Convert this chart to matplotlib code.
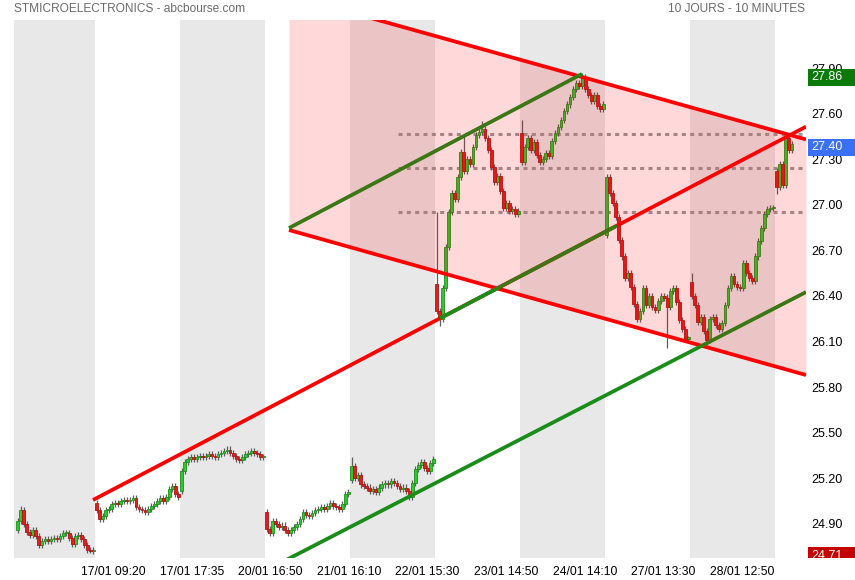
import matplotlib
matplotlib.use('Agg')
import matplotlib.pyplot as plt
import matplotlib.transforms as mtrans
from matplotlib.patches import Rectangle
import numpy as np

plt.rcParams['font.family'] = ['Liberation Sans', 'DejaVu Sans']
plt.rcParams['lines.scale_dashes'] = False

# ---------------- data ----------------
title_left = "STMICROELECTRONICS - abcbourse.com"
title_right = "10 JOURS - 10 MINUTES"

days = ['16/01', '17/01', '20/01', '21/01', '22/01', '23/01', '24/01', '27/01', '28/01', '29/01']

day_open = [24.86, 25.04, 25.12, 24.98, 25.19, 26.48, 27.47, 26.80, 26.49, 27.22]

closes_1601 = [24.92, 24.99, 24.90, 24.85, 24.83, 24.86, 24.82, 24.76, 24.79, 24.80, 24.79, 24.80, 24.81,
               24.80, 24.82, 24.84, 24.84, 24.81, 24.77, 24.82, 24.83, 24.80, 24.76, 24.73, 24.72, 24.73]
closes_1701 = [24.99, 24.93, 24.95, 24.99, 25.00, 25.03, 25.04, 25.03, 25.05, 25.06, 25.05, 25.06, 25.07, 25.01,
               25.00, 24.99, 24.98, 25.00, 25.02, 25.03, 25.05, 25.07, 25.05, 25.08, 25.13, 25.15, 25.10, 25.08]
closes_2001 = [25.25, 25.31, 25.33, 25.34, 25.33, 25.34, 25.35, 25.34, 25.35, 25.36, 25.35, 25.34, 25.36, 25.37,
               25.38, 25.39, 25.37, 25.35, 25.33, 25.32, 25.34, 25.36, 25.37, 25.38, 25.37, 25.36, 25.34, 25.34]
closes_2101 = [24.87, 24.84, 24.92, 24.90, 24.88, 24.89, 24.86, 24.84, 24.86, 24.88, 24.90, 24.93, 24.98, 24.96,
               24.95, 24.97, 24.99, 25.00, 25.01, 25.00, 25.02, 25.04, 25.02, 25.01, 25.00, 25.03, 25.10, 25.11]
closes_2201 = [25.28, 25.20, 25.22, 25.16, 25.15, 25.14, 25.12, 25.13, 25.11, 25.14, 25.16, 25.17, 25.16, 25.18,
               25.17, 25.15, 25.13, 25.14, 25.12, 25.08, 25.17, 25.26, 25.29, 25.31, 25.27, 25.25, 25.30, 25.33]
closes_2301 = [26.30, 26.25, 26.45, 26.72, 26.95, 27.08, 27.04, 27.18, 27.35, 27.22, 27.30, 27.27, 27.38, 27.46,
               27.48, 27.50, 27.44, 27.36, 27.25, 27.15, 27.19, 27.09, 26.98, 27.01, 26.96, 26.97, 26.94, 26.96]
closes_2401 = [27.28, 27.38, 27.44, 27.36, 27.41, 27.33, 27.28, 27.30, 27.34, 27.32, 27.42, 27.47, 27.51, 27.56,
               27.62, 27.66, 27.71, 27.76, 27.80, 27.78, 27.84, 27.76, 27.72, 27.68, 27.72, 27.65, 27.63, 27.66]
closes_2701 = [27.18, 27.08, 27.01, 26.92, 26.77, 26.66, 26.52, 26.55, 26.46, 26.35, 26.25, 26.30, 26.45, 26.34,
               26.40, 26.33, 26.31, 26.37, 26.40, 26.39, 26.33, 26.43, 26.45, 26.36, 26.24, 26.18, 26.12, 26.12]
closes_2801 = [26.40, 26.34, 26.23, 26.26, 26.17, 26.11, 26.25, 26.26, 26.21, 26.18, 26.22, 26.34, 26.45, 26.53,
               26.48, 26.46, 26.45, 26.62, 26.55, 26.52, 26.50, 26.66, 26.76, 26.85, 26.94, 26.97, 26.98, 26.98]
closes_2901 = [27.12, 27.27, 27.13, 27.44, 27.36, 27.40]
closes = [closes_1601, closes_1701, closes_2001, closes_2101, closes_2201,
          closes_2301, closes_2401, closes_2701, closes_2801, closes_2901]

# notable wicks: (day, candle) -> (high, low)
wick_extremes = {
    (0, 1): (25.02, None), (0, 24): (None, 24.71),
    (4, 0): (25.34, None),
    (5, 0): (26.95, None), (5, 1): (None, 26.20), (5, 9): (27.46, None), (5, 15): (27.55, None),
    (6, 0): (27.56, None), (6, 20): (27.87, None),
    (7, 0): (27.20, None), (7, 20): (None, 26.06),
    (8, 0): (26.55, None), (8, 5): (None, 26.08),
    (9, 0): (None, 27.07), (9, 3): (27.47, None),
}

# trend lines: (position in days, price)
rise_red_x, rise_red_y = [0.9765, 9.3647], [25.058, 27.514]
down_up_x, down_up_y = [3.2824, 9.3647], [28.379, 27.430]
down_lo_x, down_lo_y = [3.2824, 9.3647], [26.834, 25.880]
green_up_x, green_up_y = [3.2824, 6.7294], [26.847, 27.861]
green_mid_x, green_mid_y = [5.0588, 7.1412], [26.253, 26.863]
green_lo_x, green_lo_y = [3.176, 9.3647], [24.642, 26.426]
levels = [27.464, 27.240, 26.950]
levels_start = 4.565

yticks = [24.90, 25.20, 25.50, 25.80, 26.10, 26.40, 26.70, 27.00, 27.30, 27.60, 27.90]
xtick_labels = ['17/01 09:20', '17/01 17:35', '20/01 16:50', '21/01 16:10', '22/01 15:30',
                '23/01 14:50', '24/01 14:10', '27/01 13:30', '28/01 12:50']
price_high, price_last, price_low = 27.86, 27.40, 24.71

# ---------------- figure ----------------
W, H = 855, 580
fig = plt.figure(figsize=(W / 100, H / 100), dpi=100)
ax = fig.add_axes([14 / W, 22 / H, 792 / W, 538 / H])
XMIN, XMAX = 4 / 85, 9.3647
YMIN, YMAX = 24.6763, 28.2158
ax.set_xlim(XMIN, XMAX)
ax.set_ylim(YMIN, YMAX)
for s in ax.spines.values():
    s.set_visible(False)

# alternating day bands
for d in range(0, len(days), 2):
    ax.axvspan(d, d + 1, color='#e8e8e8', lw=0, zorder=0)

# dashed levels
for lv in levels:
    ax.plot([levels_start, XMAX], [lv, lv], color='#999999', lw=2.2,
            linestyle=(0, (2.9, 3.1)), zorder=1, solid_capstyle='butt')

# candles
N = 28
wick = 0.02
xs, o, c, hi, lo = [], [], [], [], []
for d, (op, cl) in enumerate(zip(day_open, closes)):
    offset = N - len(cl) if d == 0 else 0
    prev = op
    for j, v in enumerate(cl):
        xs.append(d + (offset + j + 0.5) / N)
        o.append(prev)
        c.append(v)
        h_ = max(prev, v) + wick
        l_ = min(prev, v) - wick
        if (d, j) in wick_extremes:
            eh, el = wick_extremes[(d, j)]
            if eh is not None:
                h_ = eh
            if el is not None:
                l_ = el
        hi.append(h_)
        lo.append(l_)
        prev = v
xs, o, c, hi, lo = map(np.array, (xs, o, c, hi, lo))
up = c >= o
ax.vlines(xs, lo, hi, colors='#5f5f5f', lw=0.9, zorder=2.5)
body = np.maximum(np.abs(c - o), 0.008)
ax.bar(xs[up], body[up], bottom=np.minimum(o, c)[up], width=0.92 / N,
       color='#2ec82e', edgecolor='#1c921c', lw=0.6, zorder=3)
ax.bar(xs[~up], body[~up], bottom=np.minimum(o, c)[~up], width=0.92 / N,
       color='#e41c1c', edgecolor='#b01414', lw=0.6, zorder=3)

# trend lines
lw = 2.7
ax.plot(rise_red_x, rise_red_y, color='#ff0000', lw=lw, zorder=4, solid_capstyle='butt')
ax.plot(down_up_x, down_up_y, color='#ff0000', lw=lw, zorder=4, solid_capstyle='butt')
ax.plot(down_lo_x, down_lo_y, color='#ff0000', lw=lw, zorder=4, solid_capstyle='butt')
ax.plot(green_up_x, green_up_y, color='#1a8c1a', lw=lw, zorder=4.1, solid_capstyle='butt')
ax.plot(green_mid_x, green_mid_y, color='#1a8c1a', lw=lw, zorder=4.1, solid_capstyle='butt')
ax.plot(green_lo_x, green_lo_y, color='#1a8c1a', lw=lw, zorder=4.1, solid_capstyle='butt')

# channel fill (on top)
ax.fill_between(down_up_x, down_lo_y, down_up_y, color='#ff0000', alpha=0.15, lw=0, zorder=5)

# axes ticks
ax.yaxis.tick_right()
ax.set_yticks(yticks)
ax.set_yticklabels([f'{v:.2f}' for v in yticks])
ax.tick_params(axis='y', length=0, pad=3.6, labelsize=9, labelcolor='black')

day_len = 530.0
tick_pos = []
for lab in xtick_labels:
    dd, tt = lab.split(' ')
    hh, mm = map(int, tt.split(':'))
    tick_pos.append(days.index(dd) + ((hh - 9) * 60 + mm) / day_len)
ax.set_xticks(tick_pos)
ax.set_xticklabels(xtick_labels)
ax.tick_params(axis='x', length=0, pad=5.5, labelsize=8.7, labelcolor='black')
shift = mtrans.ScaledTranslation(15 / 100, 0, fig.dpi_scale_trans)
for t in ax.get_xticklabels():
    t.set_transform(t.get_transform() + shift)

# price boxes on the right
blend = mtrans.blended_transform_factory(fig.transFigure, ax.transData)
clipbox = mtrans.TransformedBbox(mtrans.Bbox([[0, 22 / H], [1, 1]]), fig.transFigure)
box_h = 17 / 152
for val, col in [(price_high, '#0b7a0b'), (price_last, '#3a70f5'), (price_low, '#c40000')]:
    yc = val - 3 / 152
    r = Rectangle((808 / W, yc - box_h / 2), 47 / W, box_h, transform=blend,
                  facecolor=col, edgecolor='none', zorder=10, clip_on=True)
    fig.add_artist(r)
    r.set_clip_box(clipbox)
    t = fig.text(811 / W, yc, f'{val:.2f}', transform=blend, color='white', fontsize=9,
                 va='center', ha='left', zorder=11)
    t.set_clip_box(clipbox)
    t.set_clip_on(True)

fig.text(14 / W, 1 - 9 / H, title_left, color='#6b6b6b', fontsize=8.6, va='center', ha='left')
fig.text(805 / W, 1 - 9 / H, title_right, color='#6b6b6b', fontsize=8.6, va='center', ha='right')

fig.savefig('out.png', dpi=100)
